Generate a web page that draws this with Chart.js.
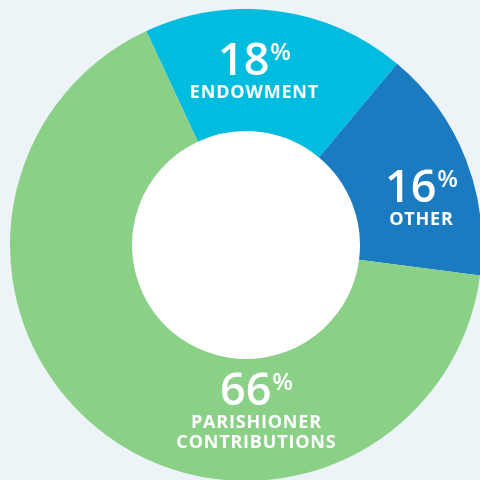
<!DOCTYPE html>
<html>
<head>
<meta charset="utf-8">
<script src="https://cdn.jsdelivr.net/npm/chart.js@4.4.1/dist/chart.umd.min.js"></script>
<style>
  html, body { margin: 0; padding: 0; width: 480px; height: 480px; overflow: hidden; background: #edf4f8; }
  #wrap { position: absolute; left: 10px; top: 9px; width: 472px; height: 472px; }
</style>
</head>
<body>
<div id="wrap"><canvas id="incomeChart" width="472" height="472"></canvas></div>
<script>
const categories = ['ENDOWMENT', 'OTHER', 'PARISHIONER CONTRIBUTIONS'];
const labelLines = [['ENDOWMENT'], ['OTHER'], ['PARISHIONER', 'CONTRIBUTIONS']];
const shares = [18, 16, 66];
const colors = ['#00bcdf', '#1b7bc0', '#8ad087'];

// where each label group sits, relative to the chart centre
const labelOffsets = [
    { dx: 8, dy: -170 },
    { dx: 175, dy: -43 },
    { dx: 10, dy: 160 },
];

const whiteHole = {
    id: 'whiteHole',
    beforeDatasetsDraw(chart) {
        const arc = chart.getDatasetMeta(0).data[0];
        const ctx = chart.ctx;
        ctx.save();
        ctx.fillStyle = '#ffffff';
        ctx.beginPath();
        ctx.arc(arc.x, arc.y, arc.innerRadius + 1, 0, Math.PI * 2);
        ctx.fill();
        ctx.restore();
    },
};

const sliceLabels = {
    id: 'sliceLabels',
    afterDatasetsDraw(chart) {
        const ctx = chart.ctx;
        const meta = chart.getDatasetMeta(0);
        const cx = meta.data[0].x;
        const cy = meta.data[0].y;
        const spacing = 0.8;
        ctx.save();
        ctx.fillStyle = '#ffffff';
        ctx.textBaseline = 'alphabetic';
        shares.forEach((v, i) => {
            const x = cx + labelOffsets[i].dx;
            const y = cy + labelOffsets[i].dy;
            const num = String(v);
            ctx.font = '600 45px "Open Sans"';
            const nw = ctx.measureText(num).width;
            ctx.font = '600 24px "Open Sans"';
            const pw = ctx.measureText('%').width;
            const left = x - (nw + pw) / 2;
            ctx.textAlign = 'left';
            ctx.font = '600 45px "Open Sans"';
            ctx.fillText(num, left, y);
            ctx.font = '600 24px "Open Sans"';
            ctx.fillText('%', left + nw + 1, y - 15);
            ctx.textAlign = 'center';
            ctx.font = '700 18px "Open Sans"';
            ctx.letterSpacing = spacing + 'px';
            labelLines[i].forEach((line, j) => {
                ctx.fillText(line, x + spacing / 2, y + 23 + j * 20);
            });
            ctx.letterSpacing = '0px';
        });
        ctx.restore();
    },
};

// eslint-disable-next-line no-new
new Chart(document.getElementById('incomeChart'), {
    type: 'doughnut',
    data: {
        labels: categories,
        datasets: [
            {
                data: shares,
                backgroundColor: colors,
                borderWidth: 0,
            },
        ],
    },
    options: {
        responsive: false,
        animation: false,
        rotation: -25,
        cutout: '48.3%',
        layout: { padding: 0 },
        plugins: {
            legend: { display: false },
            tooltip: { enabled: false },
        },
    },
    plugins: [whiteHole, sliceLabels],
});
</script>
</body>
</html>
